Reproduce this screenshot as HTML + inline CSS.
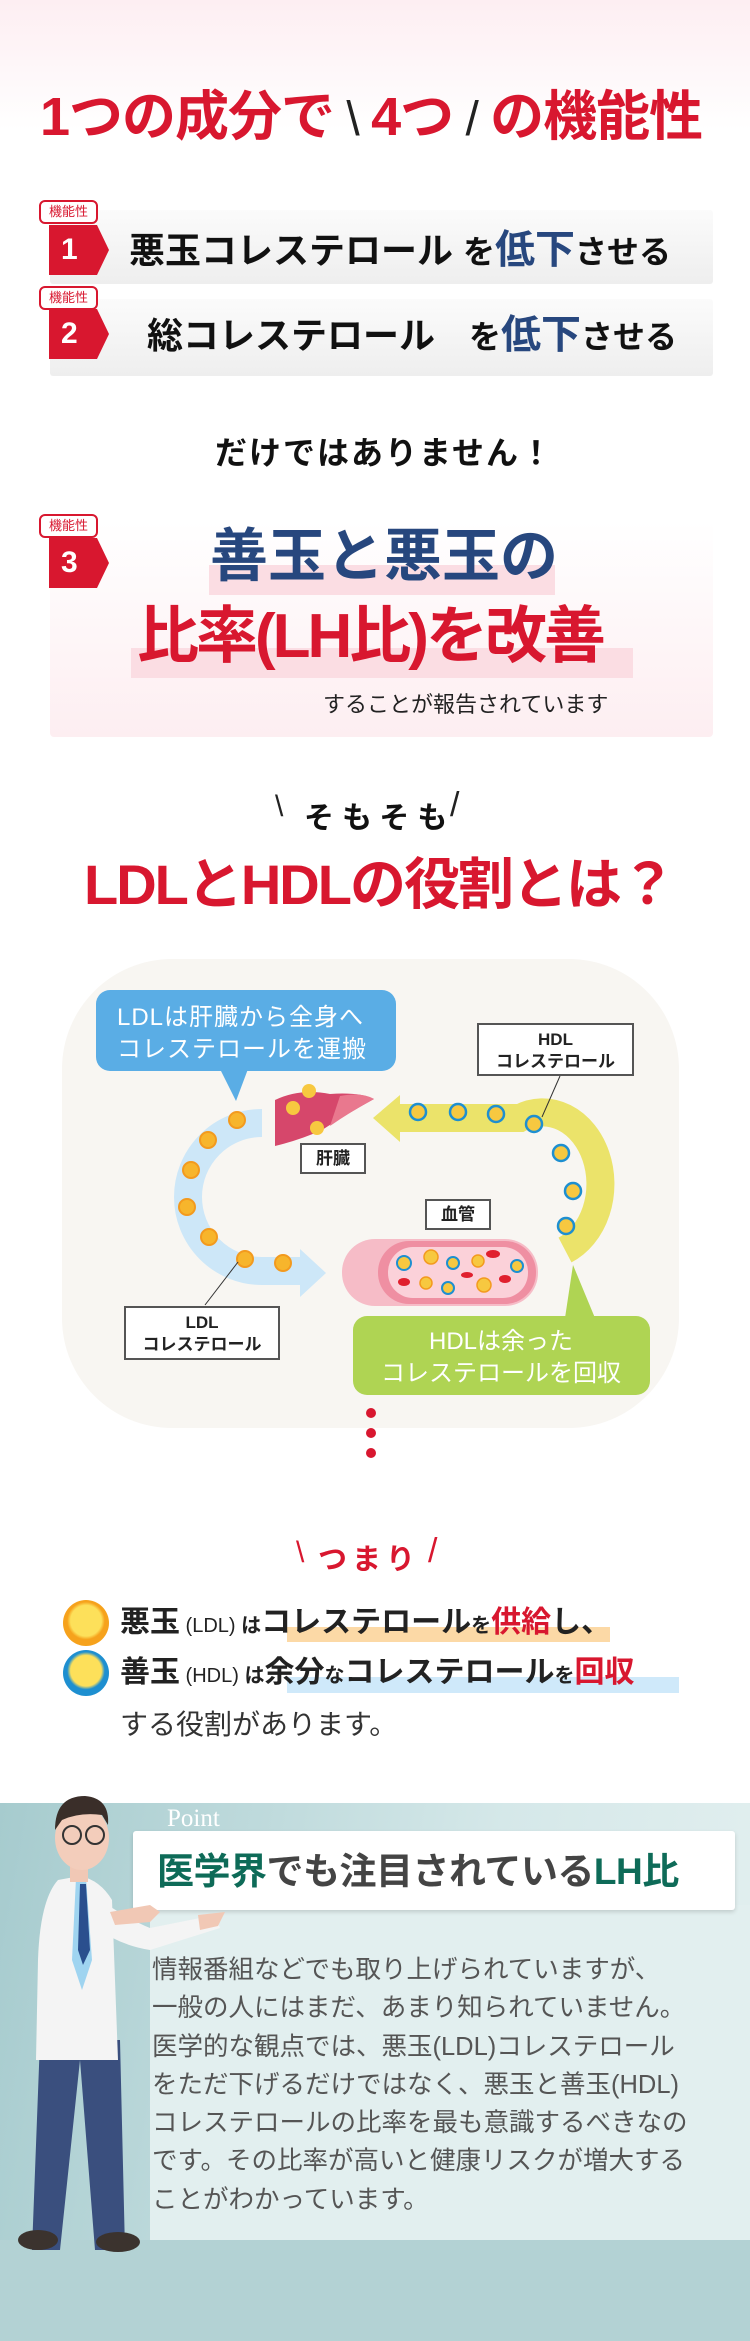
<!DOCTYPE html>
<html><head><meta charset="utf-8"><style>
*{margin:0;padding:0;box-sizing:border-box}
body{width:750px;height:2341px;position:relative;overflow:hidden;background:#fff;font-family:"Liberation Sans","Noto Sans CJK JP",sans-serif}
.a{position:absolute;white-space:nowrap}
.tag{position:absolute;width:59px;height:24px;border:2px solid #d8172f;border-radius:6px;background:#fff;color:#d8172f;font-size:13px;text-align:center;line-height:20px;z-index:2}
.num{position:absolute;width:60px;height:50px;background:#d8172f;color:#fff;font-weight:bold;font-size:30px;line-height:50px;padding-left:12px;clip-path:polygon(0 0,80% 0,100% 50%,80% 100%,0 100%);z-index:2}
.bar{position:absolute;left:50px;width:663px;background:linear-gradient(#fbfbfb,#eeeeee);border-radius:3px}
.lbl{position:absolute;border:2px solid #555;background:#fff;text-align:center;font-weight:bold;color:#222}
.body p{font-size:25.5px;line-height:38.3px;color:#555}
</style></head><body>
<div class="a" style="left:0;top:0;width:750px;height:130px;background:linear-gradient(#fdeef2,#fff)"></div>
<div class="a" style="left:40px;top:72px;font-size:54px;font-weight:bold;color:#d8172f;letter-spacing:-1px">1つの成分で<span style="color:#222;font-weight:normal;font-size:48px"> \ </span>4つ<span style="color:#222;font-weight:normal;font-size:48px"> / </span>の機能性</div>

<div class="bar" style="top:210px;height:74px"></div>
<div class="tag" style="left:39px;top:200px">機能性</div>
<div class="num" style="left:49px;top:225px">1</div>
<div class="a" style="left:129px;top:225px;font-size:36px;font-weight:bold;color:#111;line-height:50px">悪玉コレステロール <span style="font-size:32px">を</span><span style="color:#27477e;font-size:40px">低下</span><span style="font-size:32px">させる</span></div>

<div class="bar" style="top:299px;height:77px"></div>
<div class="tag" style="left:39px;top:286px">機能性</div>
<div class="num" style="left:49px;top:309px">2</div>
<div class="a" style="left:147px;top:310px;font-size:36px;font-weight:bold;color:#111;line-height:50px">総コレステロール<span style="display:inline-block;width:34px"></span><span style="font-size:32px">を</span><span style="color:#27477e;font-size:40px">低下</span><span style="font-size:32px">させる</span></div>

<div class="a" style="left:215px;top:428px;font-size:32px;font-weight:bold;color:#111;letter-spacing:2px">だけではありません！</div>

<div class="a" style="left:50px;top:521px;width:663px;height:216px;background:linear-gradient(#fff,#fdeef1);border-radius:4px"></div>
<div class="tag" style="left:39px;top:514px">機能性</div>
<div class="num" style="left:49px;top:538px">3</div>
<div class="a" style="left:209px;top:565px;width:346px;height:30px;background:#fbdde3"></div>
<div class="a" style="left:210px;top:521px;font-size:58px;font-weight:bold;color:#27477e;line-height:72px">善玉と悪玉の</div>
<div class="a" style="left:131px;top:648px;width:502px;height:30px;background:#fbdde3"></div>
<div class="a" style="left:137px;top:600px;font-size:62px;font-weight:bold;color:#d8172f;line-height:74px;letter-spacing:-3px">比率(LH比)を改善</div>
<div class="a" style="left:323px;top:687px;font-size:22px;color:#222">することが報告されています</div>

<div class="a" style="left:275px;top:790px;font-size:30px;color:#222">\</div>
<div class="a" style="left:304px;top:793px;font-size:30px;font-weight:bold;color:#111;letter-spacing:8px">そもそも</div>
<div class="a" style="left:450px;top:786px;font-size:34px;color:#222">/</div>
<div class="a" style="left:84px;top:840px;font-size:56px;font-weight:bold;color:#d8172f;letter-spacing:-2px">LDLとHDLの役割とは？</div>

<svg class="a" style="left:0;top:950px" width="750" height="520" viewBox="0 950 750 520">
<rect x="62" y="959" width="617" height="469" rx="110" fill="#f8f6f2"/>
<path d="M262 1123 A74 74 0 0 0 262 1271 L302 1271" fill="none" stroke="#cde7f8" stroke-width="28"/>
<polygon points="300,1249 326,1273 300,1297" fill="#cde7f8"/>
<g fill="#f7b52c" stroke="#f39a1e" stroke-width="2">
<circle cx="237" cy="1120" r="8"/><circle cx="208" cy="1140" r="8"/><circle cx="191" cy="1170" r="8"/><circle cx="187" cy="1207" r="8"/><circle cx="209" cy="1237" r="8"/><circle cx="245" cy="1259" r="8"/><circle cx="283" cy="1263" r="8"/></g>
<line x1="238" y1="1262" x2="205" y2="1305" stroke="#333" stroke-width="1"/>
<path d="M400 1118 L520 1118 A55 68 0 0 1 565 1250" fill="none" stroke="#ebe36a" stroke-width="28"/>
<polygon points="400,1095 373,1118 400,1142" fill="#ebe36a"/>
<g fill="#f7c840" stroke="#1e8fd0" stroke-width="2.5">
<circle cx="418" cy="1112" r="8"/><circle cx="458" cy="1112" r="8"/><circle cx="496" cy="1114" r="8"/><circle cx="534" cy="1124" r="8"/><circle cx="561" cy="1153" r="8"/><circle cx="573" cy="1191" r="8"/><circle cx="566" cy="1226" r="8"/></g>
<line x1="560" y1="1076" x2="542" y2="1117" stroke="#333" stroke-width="1"/>
<path d="M275 1100 Q300 1088 330 1094 Q360 1092 374 1099 Q345 1115 322 1130 Q300 1140 275 1146 Z" fill="#d6476b"/>
<path d="M340 1096 Q362 1092 374 1099 Q350 1112 330 1126 Z" fill="#e9788e"/>
<circle cx="309" cy="1091" r="7" fill="#f7c840"/><circle cx="293" cy="1108" r="7" fill="#f7c840"/><circle cx="317" cy="1128" r="7" fill="#f7c840"/>
<rect x="342" y="1239" width="196" height="67" rx="33" fill="#f6bcc7"/>
<rect x="378" y="1241" width="158" height="63" rx="31" fill="#ef8fa2"/>
<rect x="388" y="1247" width="140" height="51" rx="25" fill="#fbd1d9"/>
<g fill="#f7c840" stroke="#f39a1e" stroke-width="1.5"><circle cx="431" cy="1257" r="7"/><circle cx="478" cy="1261" r="6"/><circle cx="426" cy="1283" r="6"/><circle cx="484" cy="1285" r="7"/></g>
<g fill="#f7c840" stroke="#1e8fd0" stroke-width="2"><circle cx="404" cy="1263" r="7"/><circle cx="453" cy="1263" r="6"/><circle cx="517" cy="1266" r="6"/><circle cx="448" cy="1288" r="6"/></g>
<g fill="#e0202e"><ellipse cx="493" cy="1254" rx="7" ry="4"/><ellipse cx="467" cy="1275" rx="6" ry="3"/><ellipse cx="404" cy="1282" rx="6" ry="4"/><ellipse cx="505" cy="1279" rx="6" ry="4"/></g>
<rect x="96" y="990" width="300" height="81" rx="14" fill="#5aade5"/>
<polygon points="220,1069 248,1069 236,1101" fill="#5aade5"/>
<text x="117" y="1025" font-size="24" fill="#fff" font-family="Liberation Sans,Noto Sans CJK JP,sans-serif" letter-spacing="1">LDLは肝臓から全身へ</text>
<text x="117" y="1057" font-size="24" fill="#fff" font-family="Liberation Sans,Noto Sans CJK JP,sans-serif" letter-spacing="1">コレステロールを運搬</text>
<rect x="353" y="1316" width="297" height="79" rx="14" fill="#afd453"/>
<polygon points="573,1265 565,1318 595,1318" fill="#afd453"/>
<text x="501" y="1349" text-anchor="middle" font-size="24" fill="#fff" font-family="Liberation Sans,Noto Sans CJK JP,sans-serif">HDLは余った</text>
<text x="501" y="1381" text-anchor="middle" font-size="24" fill="#fff" font-family="Liberation Sans,Noto Sans CJK JP,sans-serif">コレステロールを回収</text>
<circle cx="371" cy="1413" r="5" fill="#d8172f"/><circle cx="371" cy="1433" r="5" fill="#d8172f"/><circle cx="371" cy="1453" r="5" fill="#d8172f"/>
</svg>
<div class="lbl" style="left:477px;top:1023px;width:157px;height:53px;font-size:17px;line-height:22px;padding-top:4px">HDL<br>コレステロール</div>
<div class="lbl" style="left:300px;top:1143px;width:66px;height:31px;font-size:17px;line-height:27px">肝臓</div>
<div class="lbl" style="left:425px;top:1199px;width:66px;height:31px;font-size:17px;line-height:27px">血管</div>
<div class="lbl" style="left:124px;top:1306px;width:156px;height:54px;font-size:17px;line-height:22px;padding-top:4px">LDL<br>コレステロール</div>

<div class="a" style="left:296px;top:1536px;font-size:30px;color:#d8172f">\</div>
<div class="a" style="left:318px;top:1536px;font-size:29px;font-weight:bold;color:#d8172f;letter-spacing:5px">つまり</div>
<div class="a" style="left:428px;top:1532px;font-size:34px;color:#d8172f">/</div>

<div class="a" style="left:63px;top:1600px;width:46px;height:46px;border-radius:50%;background:radial-gradient(circle at 50% 45%,#fde05a 0 45%,#f6a21c 55%)"></div>
<div class="a" style="left:287px;top:1627px;width:323px;height:15px;background:#fcd9a6"></div>
<div class="a" style="left:120px;top:1600px;font-size:30px;font-weight:bold;color:#222;line-height:46px">悪玉<span style="font-size:20px;font-weight:normal"> (LDL) </span><span style="font-size:20px">は</span>コレステロール<span style="font-size:20px">を</span><span style="color:#d8172f">供給</span>し、</div>
<div class="a" style="left:63px;top:1650px;width:46px;height:46px;border-radius:50%;background:radial-gradient(circle at 50% 45%,#fde05a 0 45%,#1e8fd0 55%)"></div>
<div class="a" style="left:287px;top:1677px;width:392px;height:16px;background:#cfe9fa"></div>
<div class="a" style="left:120px;top:1650px;font-size:30px;font-weight:bold;color:#222;line-height:46px">善玉<span style="font-size:20px;font-weight:normal"> (HDL) </span><span style="font-size:20px">は</span>余分<span style="font-size:20px">な</span>コレステロール<span style="font-size:20px">を</span><span style="color:#d8172f">回収</span></div>
<div class="a" style="left:120px;top:1703px;font-size:28px;color:#333">する役割があります。</div>

<div class="a" style="left:0;top:1803px;width:750px;height:538px;background:linear-gradient(100deg,#a6cbce,#d5e8e9 60%,#e4f0f0)"></div>
<div class="a" style="left:0;top:2240px;width:750px;height:101px;background:#b3d2d4"></div>
<div class="a" style="left:150px;top:1905px;width:600px;height:335px;background:#e2efef"></div>
<div class="a" style="left:167px;top:1805px;font-size:25px;color:#fff;font-family:'Liberation Serif',serif">Point</div>
<div class="a" style="left:133px;top:1831px;width:602px;height:79px;background:#fff;border-radius:3px;box-shadow:0 2px 4px rgba(0,0,0,.15)"></div>
<div class="a" style="left:157px;top:1849px;font-size:37px;font-weight:bold;color:#444;line-height:46px;letter-spacing:-0.5px"><span style="color:#0e6b58">医学界</span>でも注目されている<span style="color:#0e6b58">LH比</span></div>
<div class="a body" style="left:152px;top:1951px">
<p>情報番組などでも取り上げられていますが、</p>
<p>一般の人にはまだ、あまり知られていません。</p>
<p>医学的な観点では、悪玉(LDL)コレステロール</p>
<p>をただ下げるだけではなく、悪玉と善玉(HDL)</p>
<p>コレステロールの比率を最も意識するべきなの</p>
<p>です。その比率が高いと健康リスクが増大する</p>
<p>ことがわかっています。</p>
</div>
<svg class="a" style="left:0;top:1780px" width="250" height="480" viewBox="0 1780 250 480">
<path d="M40 2040 L32 2250 L60 2250 L80 2060 L95 2250 L125 2250 L120 2040 Z" fill="#3a4f7e"/>
<ellipse cx="38" cy="2240" rx="20" ry="10" fill="#3b332e"/><ellipse cx="118" cy="2242" rx="22" ry="10" fill="#3b332e"/>
<path d="M58 1880 Q40 1900 38 1960 L36 2060 L118 2060 L112 1900 Q100 1880 80 1876 Z" fill="#f4f4f4"/>
<path d="M76 1878 L86 1878 L92 1960 L82 1990 L72 1960 Z" fill="#9fd4f0"/>
<path d="M80 1884 L86 1884 L90 1950 L83 1965 L78 1950 Z" fill="#2a4f8e"/>
<path d="M100 1900 Q130 1920 150 1928 L215 1915 L220 1928 L150 1950 Q120 1945 100 1930 Z" fill="#f4f4f4"/>
<path d="M110 1912 L150 1905 L160 1912 L150 1922 L115 1925 Z" fill="#f1c8b5"/>
<path d="M198 1915 L225 1912 L218 1926 L200 1930 Z" fill="#f1c8b5"/>
<rect x="70" y="1860" width="18" height="22" fill="#f1c8b5"/>
<ellipse cx="82" cy="1838" rx="27" ry="32" fill="#f3cdbb"/>
<path d="M55 1830 Q55 1796 85 1796 Q110 1798 108 1825 L102 1815 Q80 1812 62 1820 Z" fill="#3a2e29"/>
<circle cx="72" cy="1835" r="9" fill="none" stroke="#333" stroke-width="2"/><circle cx="95" cy="1835" r="9" fill="none" stroke="#333" stroke-width="2"/>
</svg>
</body></html>
